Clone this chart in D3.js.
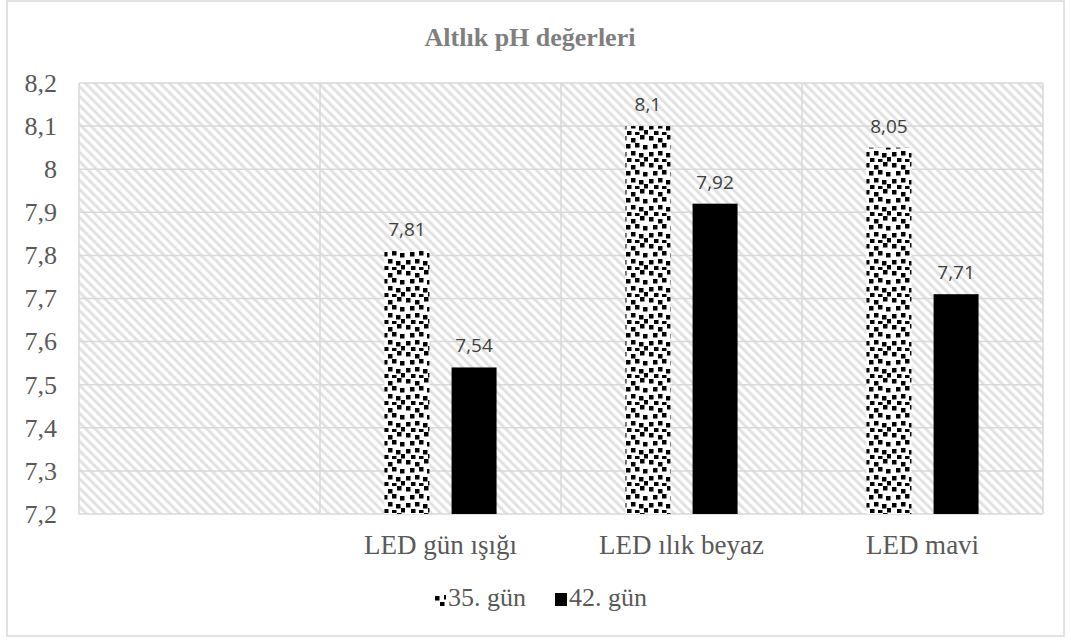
<!DOCTYPE html>
<html>
<head>
<meta charset="utf-8">
<script src="https://cdn.jsdelivr.net/npm/d3@7"></script>
<style>
body { margin: 0; background: #fff; }
</style>
</head>
<body>
<div id="chart"></div>
<script>
// data
categories = ["", "LED gün ışığı", "LED ılık beyaz", "LED mavi"];
series = ["35. gün", "42. gün"];
day35 = [null, 7.81, 8.1, 8.05];
day42 = [null, 7.54, 7.92, 7.71];
yTicks = [7.2, 7.3, 7.4, 7.5, 7.6, 7.7, 7.8, 7.9, 8, 8.1, 8.2];

width = 1070;
height = 641;
margin = { top: 83, right: 27, bottom: 127, left: 79 };

fmt = v => String(v).replace(".", ",");

svg = d3.select("#chart").append("svg")
    .attr("width", width)
    .attr("height", height);

defs = svg.append("defs");

// background hatch (\\\ direction)
hatch = defs.append("pattern")
    .attr("id", "hatch")
    .attr("patternUnits", "userSpaceOnUse")
    .attr("width", 6.6)
    .attr("height", 6.6)
    .attr("patternTransform", "rotate(-45)");
hatch.append("rect").attr("width", 6.6).attr("height", 6.6).attr("fill", "#fff");
hatch.append("rect").attr("x", 0).attr("width", 3).attr("height", 6.6).attr("fill", "#e2e2e2");

// dotted pattern for 35. gün
dots = defs.append("pattern")
    .attr("id", "dots")
    .attr("patternUnits", "userSpaceOnUse")
    .attr("width", 27)
    .attr("height", 27);
dots.append("rect").attr("width", 27).attr("height", 27).attr("fill", "#fff");
dotPos = [[1, 1], [10, 3], [19, 0], [5, 9], [14, 8], [22, 10], [1, 17], [10, 16], [18, 18], [6, 23], [14, 24], [23, 22]];
dotPos.forEach(function (p) {
    dots.append("rect")
        .attr("x", p[0]).attr("y", p[1])
        .attr("width", 4.5).attr("height", 4.5)
        .attr("fill", "#000");
});

// outer border
svg.append("rect")
    .attr("x", 7).attr("y", 1)
    .attr("width", 1057).attr("height", 635)
    .attr("fill", "none")
    .attr("stroke", "#d9d9d9")
    .attr("stroke-width", 1.5);

/* Scales */
xScale = d3.scaleBand()
    .domain(categories)
    .range([margin.left, width - margin.right]);

yScale = d3.scaleLinear()
    .domain([7.2, 8.2])
    .range([height - margin.bottom, margin.top]);

g = svg.append("g");

// plot area background
g.append("rect")
    .attr("x", margin.left)
    .attr("y", margin.top)
    .attr("width", xScale.range()[1] - margin.left)
    .attr("height", yScale(7.2) - margin.top)
    .attr("fill", "url(#hatch)");

// horizontal gridlines
g.selectAll(".hgrid")
    .data(yTicks).enter()
    .append("line")
    .attr("class", "hgrid")
    .attr("x1", margin.left)
    .attr("x2", width - margin.right)
    .attr("y1", d => yScale(d))
    .attr("y2", d => yScale(d))
    .attr("stroke", "#d9d9d9")
    .attr("stroke-width", 1.5);

// vertical gridlines at band edges
vEdges = categories.map(c => xScale(c)).concat([width - margin.right]);
g.selectAll(".vgrid")
    .data(vEdges).enter()
    .append("line")
    .attr("class", "vgrid")
    .attr("x1", d => d)
    .attr("x2", d => d)
    .attr("y1", margin.top)
    .attr("y2", yScale(7.2))
    .attr("stroke", "#d9d9d9")
    .attr("stroke-width", 1.5);

// y axis labels
yAxis = d3.axisLeft(yScale).tickValues(yTicks).tickFormat(fmt).tickSize(0).tickPadding(22);
yAxisG = svg.append("g")
    .attr("transform", `translate(${margin.left},0)`)
    .call(yAxis);
yAxisG.select(".domain").remove();
yAxisG.selectAll("text")
    .attr("fill", "#595959")
    .style("font-family", "Liberation Serif, serif")
    .style("font-size", "26px");

// x axis labels
xAxis = d3.axisBottom(xScale).tickSize(0).tickPadding(21);
xAxisG = svg.append("g")
    .attr("transform", `translate(0,${yScale(7.2)})`)
    .call(xAxis);
xAxisG.select(".domain").remove();
xAxisG.selectAll("text")
    .attr("fill", "#595959")
    .style("font-family", "Liberation Serif, serif")
    .style("font-size", "27px");

/* Bars */
inner = d3.scaleBand()
    .domain(series)
    .range([0, xScale.bandwidth()])
    .paddingInner(0.33)
    .paddingOuter(0.96);

barData = [];
categories.forEach(function (c, i) {
    if (day35[i] != null) barData.push({ cat: c, s: series[0], v: day35[i], fill: "url(#dots)" });
    if (day42[i] != null) barData.push({ cat: c, s: series[1], v: day42[i], fill: "#000" });
});

g.selectAll(".bar")
    .data(barData).enter()
    .append("rect")
    .attr("class", "bar")
    .attr("x", d => xScale(d.cat) + inner(d.s))
    .attr("width", inner.bandwidth())
    .attr("y", d => yScale(d.v))
    .attr("height", d => yScale(7.2) - yScale(d.v))
    .attr("fill", d => d.fill);

g.selectAll(".lbl")
    .data(barData).enter()
    .append("text")
    .attr("class", "lbl")
    .attr("x", d => xScale(d.cat) + inner(d.s) + inner.bandwidth() / 2)
    .attr("y", d => yScale(d.v) - 15)
    .attr("text-anchor", "middle")
    .attr("fill", "#404040")
    .style("font-family", "Open Sans, sans-serif")
    .style("font-size", "19px")
    .text(d => fmt(d.v));

// title
svg.append("text")
    .attr("x", 530)
    .attr("y", 46)
    .attr("text-anchor", "middle")
    .attr("fill", "#7f7f7f")
    .style("font-family", "Liberation Serif, serif")
    .style("font-weight", "bold")
    .style("font-size", "26px")
    .text("Altlık pH değerleri");

// legend
legend = svg.append("g").attr("transform", "translate(434,606)");
legItems = [{ s: series[0], fill: "url(#dots)", x: 0 }, { s: series[1], fill: "#000", x: 121 }];
legItems.forEach(function (d) {
    legend.append("rect")
        .attr("x", d.x).attr("y", -13)
        .attr("width", 12).attr("height", 13)
        .attr("fill", d.fill);
    legend.append("text")
        .attr("x", d.x + 14).attr("y", 0)
        .attr("fill", "#595959")
        .style("font-family", "Liberation Serif, serif")
        .style("font-size", "26px")
        .text(d.s);
});
</script>
</body>
</html>
